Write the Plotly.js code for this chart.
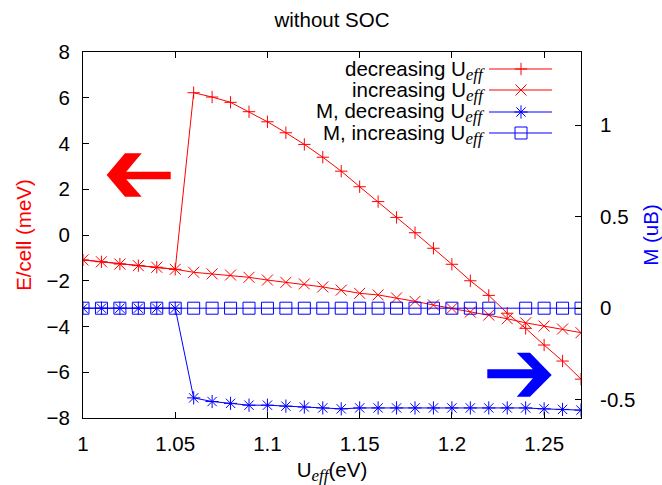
<!DOCTYPE html>
<html>
<head>
<meta charset="utf-8">
<script src="https://cdn.plot.ly/plotly-3.0.1.min.js"></script>
<style>html,body{margin:0;padding:0;background:#fff;}#chart{width:662px;height:485px;}</style>
</head>
<body>
<div id="chart"></div>
<script>
// ---- data ----
const uEff = [1.00,1.01,1.02,1.03,1.04,1.05,1.06,1.07,1.08,1.09,1.10,1.11,1.12,1.13,1.14,1.15,1.16,1.17,1.18,1.19,1.20,1.21,1.22,1.23,1.24,1.25,1.26,1.27];
const eDecreasing = [-1.09,-1.17,-1.27,-1.34,-1.41,-1.50,6.22,6.03,5.80,5.39,4.95,4.47,3.96,3.40,2.79,2.11,1.46,0.77,0.10,-0.58,-1.28,-2.00,-2.64,-3.42,-4.08,-4.81,-5.51,-6.30];
const eIncreasing = [-1.09,-1.17,-1.27,-1.34,-1.41,-1.50,-1.63,-1.70,-1.75,-1.85,-1.97,-2.07,-2.14,-2.27,-2.41,-2.55,-2.62,-2.75,-2.90,-3.06,-3.21,-3.37,-3.50,-3.66,-3.84,-3.98,-4.11,-4.27];
const mDecreasing = [0,0,0,0,0,0,-0.49,-0.51,-0.52,-0.53,-0.53,-0.535,-0.54,-0.545,-0.55,-0.545,-0.545,-0.545,-0.545,-0.545,-0.545,-0.545,-0.545,-0.545,-0.545,-0.55,-0.553,-0.557];
const mIncreasing = [0,0,0,0,0,0,0,0,0,0,0,0,0,0,0,0,0,0,0,0,0,0,0,null,0,0,0,0];
const xTicks = [1,1.05,1.1,1.15,1.2,1.25];
const xTickText = ['1','1.05','1.1','1.15','1.2','1.25'];
const yTicks = [-8,-6,-4,-2,0,2,4,6,8];
const y2Ticks = [-0.5,0,0.5,1];
const y2TickText = ['-0.5','0','0.5','1'];
const legendNames = ['decreasing U','increasing U','M, decreasing U','M, increasing U'];

// ---- layout constants ----
const W = 662, H = 485;
const L = 83, R = 581, T = 52, B = 418;
const FONT = 'Liberation Sans, Arial, Helvetica, sans-serif';
const FS = 20.5;
const RED = '#ff0000', BLUE = '#0000ff';
const px = x => (x - L) / (R - L);
const py = y => (B - y) / (B - T);
const sub = '<sub><span style="font-family:\'Liberation Serif\',serif;font-style:italic;font-size:17px">eff</span></sub>';

const styles = [
  {color: RED, symbol: 'cross-thin-open', size: 8.8, axis: 'y'},
  {color: RED, symbol: 'x-thin-open', size: 11, axis: 'y'},
  {color: BLUE, symbol: 'asterisk-open', size: 11, axis: 'y2'},
  {color: BLUE, symbol: 'square-open', size: 12, axis: 'y2'}
];
const series = [eDecreasing, eIncreasing, mDecreasing, mIncreasing];

const traces = series.map((ys, i) => ({
  x: uEff, y: ys, type: 'scatter', mode: 'lines+markers',
  yaxis: styles[i].axis, connectgaps: true, showlegend: false,
  line: {color: styles[i].color, width: 1},
  marker: {symbol: styles[i].symbol, size: styles[i].size, color: styles[i].color,
           line: {color: styles[i].color, width: 1}},
  hoverinfo: 'skip'
}));

// custom legend (text left, sample right)
const legRows = [69, 90, 112, 133];
const shapes = [];
const annotations = [];
legRows.forEach((ry, i) => {
  shapes.push({type: 'line', xref: 'paper', yref: 'paper', x0: px(489), x1: px(552), y0: py(ry), y1: py(ry),
               line: {color: styles[i].color, width: 1}});
  annotations.push({xref: 'paper', yref: 'paper', x: px(487), y: py(ry + 1), xanchor: 'right', yanchor: 'middle',
                    text: legendNames[i] + sub, showarrow: false, font: {family: FONT, size: FS, color: '#000'}});
  traces.push({x: [px(521)], y: [py(ry)], xaxis: 'x3', yaxis: 'y3', type: 'scatter', mode: 'markers',
               showlegend: false, hoverinfo: 'skip',
               marker: {symbol: styles[i].symbol, size: styles[i].size, color: styles[i].color,
                        line: {color: styles[i].color, width: 1}}});
});

// arrows
function poly(pts) { return 'M' + pts.map(p => px(p[0]) + ',' + py(p[1])).join('L') + 'Z'; }
shapes.push({type: 'path', xref: 'paper', yref: 'paper', fillcolor: RED, line: {width: 0},
  path: poly([[106.7,175],[125,153.3],[141.7,153.3],[126.2,171.7],[170.7,171.7],[170.7,179.3],[126.2,179.3],[141.7,196.7],[125,196.7]])});
shapes.push({type: 'path', xref: 'paper', yref: 'paper', fillcolor: BLUE, line: {width: 0},
  path: poly([[551.7,375],[530,352.7],[516.7,352.7],[532.9,369.3],[487.3,369.3],[487.3,378.3],[532.9,378.3],[516.7,396.7],[530,396.7]])});

const axBase = {showgrid: false, zeroline: false, showline: true, linecolor: '#000', linewidth: 1,
                ticks: 'inside', ticklen: 6, tickcolor: '#000', tickwidth: 1,
                tickfont: {family: FONT, size: FS, color: '#000'}};

const layout = {
  width: W, height: H,
  margin: {l: L, r: W - R, t: T, b: H - B, autoexpand: false},
  paper_bgcolor: '#fff', plot_bgcolor: '#fff',
  title: {text: 'without SOC', font: {family: FONT, size: FS, color: '#000'},
          x: 0.5, xref: 'paper', xanchor: 'center', y: 1 - 20 / H, yref: 'container', yanchor: 'middle'},
  xaxis: Object.assign({}, axBase, {range: [1, 1.27], tickvals: xTicks, ticktext: xTickText, mirror: 'ticks',
          ticklabelstandoff: 7,
          title: {text: 'U' + sub + '(eV)', font: {family: FONT, size: FS, color: '#000'}, standoff: 10}}),
  yaxis: Object.assign({}, axBase, {range: [-8, 8], tickvals: yTicks, ticklabelstandoff: 8,
          title: {text: 'E/cell (meV)', font: {family: FONT, size: FS, color: RED}, standoff: 9}}),
  yaxis2: Object.assign({}, axBase, {range: [-0.6, 1.4], tickvals: y2Ticks, ticktext: y2TickText,
          overlaying: 'y', side: 'right', ticklabelstandoff: 14,
          title: {text: 'M (uB)', font: {family: FONT, size: FS, color: BLUE}, standoff: 14}}),
  xaxis3: {overlaying: 'x', range: [0, 1], visible: false, anchor: 'y3', fixedrange: true},
  yaxis3: {overlaying: 'y', range: [0, 1], visible: false, anchor: 'x3', fixedrange: true},
  shapes: shapes,
  annotations: annotations,
  showlegend: false
};

Plotly.newPlot('chart', traces, layout, {staticPlot: true, displayModeBar: false});
</script>
</body>
</html>
